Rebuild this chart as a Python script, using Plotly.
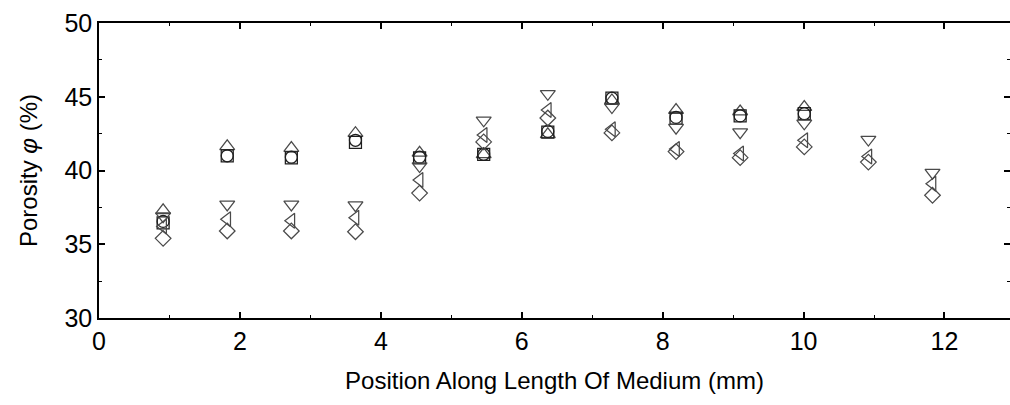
import plotly.graph_objects as go

position_mm = [0.91, 1.82, 2.73, 3.64, 4.55, 5.46, 6.37, 7.28, 8.19, 9.10, 10.01, 10.92, 11.83]

tri_up = [37.3, 41.64, 41.52, 42.53, 41.2, 41.1, 42.45, 44.75, 44.1, 44.0, 44.3, None, None]
square = [36.45, 41.0, 40.85, 41.9, 40.85, 41.1, 42.6, 44.9, 43.55, 43.7, 43.85, None, None]
circle = [36.55, 41.0, 40.9, 42.05, 40.9, 41.1, 42.65, 44.9, 43.6, 43.7, 43.85, None, None]
tri_down = [36.9, 37.7, 37.7, 37.65, 40.3, 43.4, 45.2, 44.3, 42.9, 42.6, 43.2, 42.1, 39.85]
tri_left = [36.2, 36.7, 36.6, 36.8, 39.35, 42.4, 44.1, 42.8, 41.45, 41.15, 42.05, 40.95, 39.1]
diamond = [35.4, 35.9, 35.9, 35.85, 38.47, 41.94, 43.56, 42.55, 41.28, 40.87, 41.6, 40.57, 38.32]

x_ticks = [0, 2, 4, 6, 8, 10, 12]
y_ticks = [30, 35, 40, 45, 50]

series = [
    ("triangle-up-open", tri_up, 13, "#4a4a4a"),
    ("square-open", square, 12, "#1e1e1e"),
    ("circle-open", circle, 12, "#1e1e1e"),
    ("triangle-down-open", tri_down, 13, "#4a4a4a"),
    ("triangle-left-open", tri_left, 13, "#4a4a4a"),
    ("diamond-open", diamond, 12, "#4a4a4a"),
]

fig = go.Figure()
for sym, vals, sz, col in series:
    fig.add_trace(go.Scatter(
        x=position_mm, y=vals, mode="markers",
        marker=dict(symbol=sym, size=sz, color=col, line=dict(width=1.25, color=col)),
        showlegend=False, cliponaxis=False,
    ))

tick_font = dict(family="Liberation Sans, Arial, sans-serif", size=25, color="black")
title_font = dict(family="Liberation Sans, Arial, sans-serif", size=24, color="black")

axis_common = dict(
    showline=True, linecolor="black", linewidth=1.5, mirror="ticks",
    ticks="inside", ticklen=6, tickwidth=1.5, tickcolor="black",
    showgrid=False, zeroline=False, tickfont=tick_font, automargin=False,
)

fig.update_xaxes(
    range=[0, 12.93], tickvals=x_ticks, ticktext=[str(t) for t in x_ticks],
    minor=dict(dtick=1, tick0=0, ticks="inside", ticklen=3, tickwidth=1, tickcolor="black"),
    title=dict(text="Position Along Length Of Medium (mm)", font=title_font, standoff=18),
    **axis_common,
)
fig.update_yaxes(
    range=[30, 50], tickvals=y_ticks, ticktext=[str(t) for t in y_ticks],
    minor=dict(dtick=2.5, tick0=0, ticks="inside", ticklen=3, tickwidth=1, tickcolor="black"),
    title=dict(text="Porosity <i>φ</i> (%)", font=title_font, standoff=20),
    **axis_common,
)

fig.update_layout(
    width=1010, height=405,
    margin=dict(l=99, r=0, t=23, b=87, autoexpand=False),
    plot_bgcolor="white", paper_bgcolor="white",
)

fig.write_html(
    "out.html",
    config={"displayModeBar": False},
    post_script="document.body.style.margin='0';document.body.style.overflow='hidden';",
)
